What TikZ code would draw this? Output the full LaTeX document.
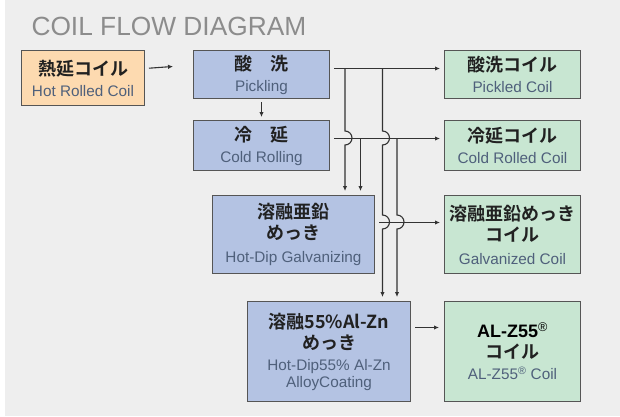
\documentclass[tikz,border=0pt]{standalone}
\usepackage{fontspec}
\setmainfont{Liberation Sans}
\newfontfamily\jpfont{Noto Sans CJK JP}[BoldFont={Noto Sans CJK JP Bold}]
\usetikzlibrary{arrows.meta}

\definecolor{bgcol}{HTML}{EEEEEE}
\definecolor{hotcol}{HTML}{FDDAB0}
\definecolor{proccol}{HTML}{B4C3E3}
\definecolor{coilcol}{HTML}{C8E6D2}
\definecolor{edgecol}{HTML}{555555}
\definecolor{engcol}{HTML}{4F607B}
\definecolor{titlecol}{HTML}{8C8C8C}

\newcommand{\jtxt}[1]{{\jpfont\bfseries\color{black!87}#1}}
\newcommand{\etxt}[1]{{\fontsize{15.3}{21}\selectfont\color{engcol}#1}}

\tikzset{
  box/.style={draw=edgecol, line width=1pt, anchor=north west, inner sep=0pt,
    align=center, font=\fontsize{18}{21}\selectfont},
  hotbox/.style={box, fill=hotcol},
  procbox/.style={box, fill=proccol},
  coilbox/.style={box, fill=coilcol},
  flow/.style={draw=black!80, line width=1.1pt, -{Latex[length=5pt,width=4.5pt]}},
  link/.style={draw=black!80, line width=1.1pt}
}

\begin{document}
\begin{tikzpicture}[x=1pt, y=-1pt]

\useasboundingbox (0,0) rectangle (620,416);
\fill[bgcol] (5,0) rectangle (620,416);

\node[anchor=base west, text=titlecol, font=\fontsize{26.3}{30}\selectfont] (title) at (28,35) {COIL FLOW DIAGRAM};

% process boxes
\node[hotbox, minimum width=123pt, minimum height=55pt] (hot) at (21,50)
  {\jtxt{熱延コイル}\\ \etxt{Hot Rolled Coil}};
\node[procbox, minimum width=136pt, minimum height=48pt] (pick) at (193,50)
  {\jtxt{酸\hspace{0.95em}洗}\\ \etxt{Pickling}};
\node[procbox, minimum width=136pt, minimum height=50pt] (cold) at (193,120)
  {\jtxt{冷\hspace{0.95em}延}\\ \etxt{Cold Rolling}};
\node[procbox, minimum width=162pt, minimum height=78pt] (galv) at (212,195)
  {\jtxt{溶融亜鉛}\\ \jtxt{めっき}\\[2pt] \etxt{Hot-Dip Galvanizing}};
\node[procbox, minimum width=163pt, minimum height=100pt] (alzn) at (247,301)
  {\jtxt{溶融{\bfseries 55\%Al-Zn}}\\ \jtxt{めっき}\\ \etxt{Hot-Dip55\% Al-Zn}\\[-4pt] \etxt{AlloyCoating}};

% coil boxes
\node[coilbox, minimum width=136pt, minimum height=48pt] (pickc) at (444,50)
  {\jtxt{酸洗コイル}\\ \etxt{Pickled Coil}};
\node[coilbox, minimum width=136pt, minimum height=50pt] (coldc) at (444,120)
  {\jtxt{冷延コイル}\\ \etxt{Cold Rolled Coil}};
\node[coilbox, minimum width=136pt, minimum height=78pt] (galvc) at (444,195)
  {\jtxt{溶融亜鉛めっき}\\ \jtxt{コイル}\\[2pt] \etxt{Galvanized Coil}};
\node[coilbox, minimum width=136pt, minimum height=100pt] (alznc) at (444,301)
  {{\bfseries AL-Z55\textsuperscript{\mdseries ®}}\\ \jtxt{コイル}\\ \etxt{AL-Z55\textsuperscript{®} Coil}};

% branch points
\coordinate (pa) at (345,68);
\coordinate (pb) at (382.5,68);
\coordinate (ca) at (360.5,138);
\coordinate (cb) at (397,138);

% connectors
\draw[flow, shorten <=4pt, shorten >=20pt] ([yshift=9.5pt]hot.east) -- ([yshift=9.5pt]pick.west);
\draw[flow, shorten <=3pt, shorten >=3pt] (pick.south) -- (cold.north);
\draw[flow, shorten <=4pt, shorten >=4pt] ([yshift=6pt]pick.east) -- ([yshift=6pt]pickc.west);
\draw[flow, shorten <=4pt, shorten >=4pt] ([yshift=7pt]cold.east) -- ([yshift=7pt]coldc.west);
\draw[flow, shorten <=4pt, shorten >=4pt] ([yshift=12pt]galv.east) -- ([yshift=12pt]galvc.west);
\draw[flow, shorten <=4pt, shorten >=5pt] ([yshift=24pt]alzn.east) -- ([yshift=24pt]alznc.west);

% downward branches, hopping over the crossings
\draw[flow, shorten >=4pt] (pa) -- ++(0,63) arc[start angle=270, end angle=450, radius=7] -- (pa |- galv.north);
\draw[flow, shorten >=4pt] (pb) -- ++(0,63) arc[start angle=270, end angle=450, radius=7]
  -- ++(0,70) arc[start angle=270, end angle=450, radius=7] -- (pb |- alzn.north);
\draw[flow, shorten >=4pt] (ca) -- (ca |- galv.north);
\draw[flow, shorten >=4pt] (cb) -- ++(0,77) arc[start angle=270, end angle=450, radius=7] -- (cb |- alzn.north);

\end{tikzpicture}
\end{document}
